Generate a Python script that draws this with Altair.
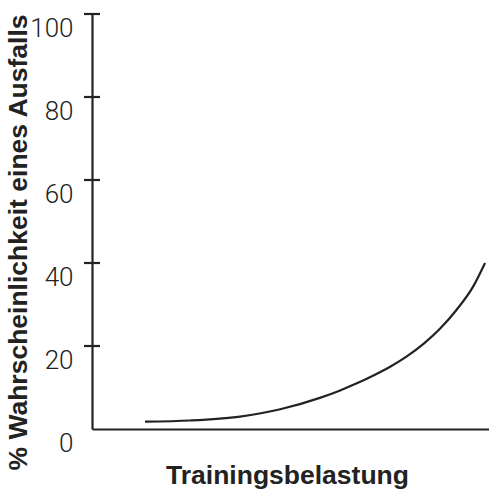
import altair as alt
import pandas as pd

# Curve
load = [13.35, 24.7, 37.3, 47.4, 57.4, 62.5, 66.7, 70.9, 75.1, 79.3, 83.5, 87.7, 91.9, 96.0, 99.0]
prob = [1.76, 2.05, 3.0, 4.75, 7.5, 9.3, 11.0, 12.9, 15.0, 17.5, 20.5, 24.2, 28.8, 34.3, 40.0]
tick_values = [20, 40, 60, 80, 100]
label_values = [0, 20, 40, 60, 80, 100]

curve = pd.DataFrame({"load": load, "prob": prob})
ticks = pd.DataFrame({"v": tick_values})

INK = "#222222"

xscale = alt.Scale(domain=[0, 100], nice=False, zero=False)
yscale = alt.Scale(domain=[0, 100], nice=False)

line = alt.Chart(curve).mark_line(
    color=INK, strokeWidth=2.2, interpolate="monotone"
).encode(
    x=alt.X(
        "load:Q",
        scale=xscale,
        axis=alt.Axis(
            title="Trainingsbelastung",
            labels=False,
            ticks=False,
            grid=False,
            domainColor=INK,
            domainWidth=2.2,
            titleFont="Liberation Sans",
            titleFontWeight="bold",
            titleFontSize=26.5,
            titleColor=INK,
            titleBaseline="alphabetic",
            titleAlign="center",
            titleX=195,
            titleY=54,
        ),
    ),
    y=alt.Y(
        "prob:Q",
        scale=yscale,
        axis=alt.Axis(
            title="% Wahrscheinlichkeit eines Ausfalls",
            values=label_values,
            ticks=False,
            tickSize=0,
            grid=False,
            domainColor=INK,
            domainWidth=2.2,
            labelFont="Roboto",
            labelFontWeight=300,
            labelFontSize=26,
            labelColor=INK,
            labelPadding=19,
            labelOffset=14,
            labelBaseline="middle",
            titleFont="Liberation Sans",
            titleFontWeight="bold",
            titleFontSize=26.5,
            titleColor=INK,
            titleAngle=-90,
            titleBaseline="alphabetic",
            titleAlign="center",
            titleX=-66,
            titleY=228,
        ),
    ),
)

tick_marks = alt.Chart(ticks).mark_rule(color=INK, strokeWidth=2.2).encode(
    y=alt.Y("v:Q", scale=yscale),
    x=alt.value(-8),
    x2=alt.value(8),
)

chart = (
    alt.layer(line, tick_marks)
    .properties(
        width=397,
        height=415,
        autosize=alt.AutoSizeParams(type="none"),
        padding={"left": 92, "top": 14, "right": 0, "bottom": 62},
        background="white",
    )
    .configure_view(stroke=None)
)

chart.save("out.html", embed_options={"renderer": "svg", "actions": False})
